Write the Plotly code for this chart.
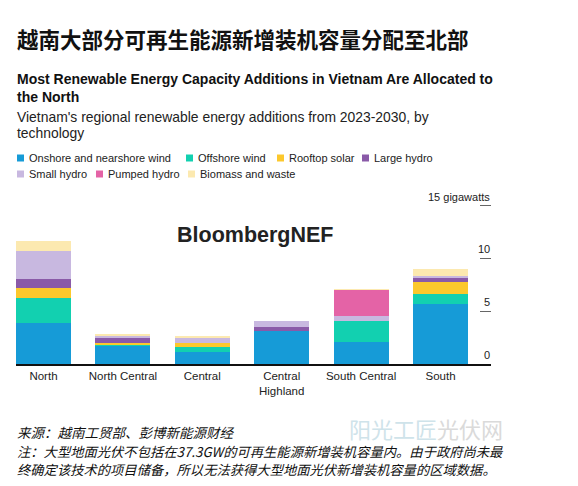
import plotly.graph_objects as go

regions = ["North", "North Central", "Central", "Central Highland", "South Central", "South"]
region_labels = ["North", "North Central", "Central", "Central<br>Highland", "South Central", "South"]

onshore_wind = [3.85, 1.74, 1.17, 3.16, 2.13, 5.73]
offshore_wind = [2.43, 0.10, 0.47, 0.0, 1.98, 0.95]
rooftop_solar = [0.89, 0.12, 0.32, 0.0, 0.0, 1.10]
large_hydro = [0.92, 0.48, 0.0, 0.35, 0.0, 0.43]
small_hydro = [2.65, 0.21, 0.54, 0.59, 0.46, 0.10]
pumped_hydro = [0.0, 0.0, 0.0, 0.0, 2.45, 0.0]
biomass_waste = [0.88, 0.19, 0.08, 0.0, 0.06, 0.69]

series_names = ["Onshore and nearshore wind", "Offshore wind", "Rooftop solar", "Large hydro",
                "Small hydro", "Pumped hydro", "Biomass and waste"]
series_values = [onshore_wind, offshore_wind, rooftop_solar, large_hydro, small_hydro, pumped_hydro, biomass_waste]
series_colors = ["#169bd7", "#12d0b0", "#fcc82c", "#8a5aa8", "#c8b8e0", "#e463a6", "#fce9b0"]

ytick_vals = [0, 5, 10, 15]
ytick_text = ["0", "5", "10", "15 gigawatts"]

FONT = "Liberation Sans, Arial, sans-serif"
CJK = "Noto Sans CJK SC, sans-serif"

fig = go.Figure()
for name, vals, color in zip(series_names, series_values, series_colors):
    fig.add_trace(go.Bar(x=regions, y=vals, name=name, showlegend=False,
                         marker=dict(color=color, line=dict(width=0))))

W, H = 578, 486
L, R, T, B = 16, 87, 200, 122
ph = H - T - B
pw = W - L - R

def py(y):
    return (H - B - y) / ph

def px(x):
    return (x - L) / pw

ann = []
shapes = []

def note(text, x, y, xanchor="left", yanchor="middle", **font):
    ann.append(dict(text=text, x=px(x), y=py(y), xref="paper", yref="paper",
                    xanchor=xanchor, yanchor=yanchor, align="left", showarrow=False, font=font))

note("阳光工匠<span style='color:#dadada'>光伏网</span>", 347, 428, family=CJK, size=22, color="#cfe3ea")
note("越南大部分可再生能源新增装机容量分配至北部", 15, 38, family=CJK, size=21.5, color="#111111", weight="bold")
note("<b>Most Renewable Energy Capacity Additions in Vietnam Are Allocated to</b>", 15, 79,
     family=FONT, size=14, color="#111111")
note("<b>the North</b>", 15, 97, family=FONT, size=14, color="#111111")
note("Vietnam's regional renewable energy additions from 2023-2030, by", 15, 117,
     family=FONT, size=13.9, color="#222222")
note("technology", 15, 133, family=FONT, size=13.9, color="#222222")
note("<b>BloombergNEF</b>", 255, 235, xanchor="center", family=FONT, size=21.5, color="#222222")
note("<i>来源：越南工贸部、彭博新能源财经</i>", 15, 432, family=CJK, size=13.5, color="#111111")
note("<i>注：大型地面光伏不包括在37.3GW的可再生能源新增装机容量内。由于政府尚未最</i>", 15, 451,
     family=CJK, size=13.3, color="#111111")
note("<i>终确定该技术的项目储备，所以无法获得大型地面光伏新增装机容量的区域数据。</i>", 15, 469.5,
     family=CJK, size=13.3, color="#111111")

# legend (swatch + label), laid out in two rows like the reference
legend_pos = [(17, 158), (186, 158), (277, 158), (362, 158), (17, 174), (96, 174), (188, 174)]
for (lx, ly), name, color in zip(legend_pos, series_names, series_colors):
    shapes.append(dict(type="rect", xref="paper", yref="paper",
                       x0=px(lx), x1=px(lx + 7), y0=py(ly + 3.5), y1=py(ly - 3.5),
                       fillcolor=color, line=dict(width=0)))
    note(name, lx + 10, ly, family=FONT, size=11, color="#222222")

# y tick labels sit above their tick marks, right-aligned at the axis
for v, t in zip(ytick_vals, ytick_text):
    ann.append(dict(text=t, x=1, y=v, xref="paper", yref="y", xanchor="right", yanchor="bottom",
                    yshift=1, xshift=1, showarrow=False, font=dict(family=FONT, size=11, color="#222222")))

fig.update_layout(
    width=W, height=H,
    margin=dict(l=L, r=R, t=T, b=B, autoexpand=False),
    paper_bgcolor="white", plot_bgcolor="white",
    barmode="stack", bargap=0.307,
    font=dict(family=FONT, color="#222222"),
    showlegend=False,
    annotations=ann,
    shapes=shapes,
    xaxis=dict(type="category", range=[-0.346, 5.636], tickvals=regions, ticktext=region_labels,
               showline=True, linecolor="#111111", linewidth=1.5, ticks="", showgrid=False,
               tickfont=dict(size=11.5, color="#222222"), fixedrange=True),
    yaxis=dict(range=[0, ph / 10.553], side="right", tickvals=ytick_vals,
               ticks="inside", ticklen=11, tickcolor="#666666", tickwidth=1,
               showticklabels=False, showgrid=False, showline=False, zeroline=False,
               fixedrange=True),
)

fig.write_html("out.html", config={"displayModeBar": False},
               post_script="document.body.style.margin='0';")
